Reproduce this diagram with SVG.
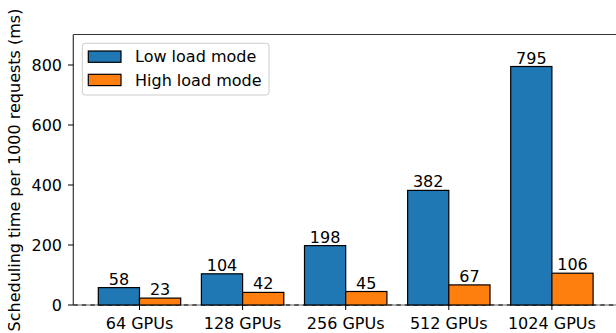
<svg xmlns="http://www.w3.org/2000/svg" width="616" height="333" viewBox="0 0 616 333">
<style>
text{font-family:"DejaVu Sans",sans-serif;font-size:16px;fill:#000}
.lo{fill:#1f77b4;stroke:#000;stroke-width:1.2}
.hi{fill:#ff7f0e;stroke:#000;stroke-width:1.2}
.v{text-anchor:middle}
.yt{text-anchor:end}
.tick{stroke:#000;stroke-width:1}
.spine{stroke:#333;stroke-width:1.2;fill:none}
</style>
<rect width="616" height="333" fill="#fff"/>
<g id="axes">
<line class="spine" x1="73.3" y1="34.5" x2="73.3" y2="305"/>
<line class="spine" x1="73.3" y1="34.5" x2="616" y2="34.5"/>
<line x1="73.3" y1="305" x2="616" y2="305" stroke="#666" stroke-width="1.2"/>
<line x1="73.3" y1="305" x2="616" y2="305" stroke="#000" stroke-width="1.2" stroke-dasharray="4.5,4"/>
<g class="tick">
<line x1="68" y1="305" x2="73.3" y2="305"/>
<line x1="68" y1="245" x2="73.3" y2="245"/>
<line x1="68" y1="185" x2="73.3" y2="185"/>
<line x1="68" y1="125" x2="73.3" y2="125"/>
<line x1="68" y1="65" x2="73.3" y2="65"/>
<line x1="139.5" y1="305" x2="139.5" y2="310"/>
<line x1="242.6" y1="305" x2="242.6" y2="310"/>
<line x1="345.7" y1="305" x2="345.7" y2="310"/>
<line x1="448.8" y1="305" x2="448.8" y2="310"/>
<line x1="551.9" y1="305" x2="551.9" y2="310"/>
</g>
<text class="yt" x="62" y="310.8">0</text>
<text class="yt" x="62" y="250.8">200</text>
<text class="yt" x="62" y="190.8">400</text>
<text class="yt" x="62" y="130.8">600</text>
<text class="yt" x="62" y="70.8">800</text>
<text class="v" x="139.5" y="329">64 GPUs</text>
<text class="v" x="242.6" y="329">128 GPUs</text>
<text class="v" x="345.7" y="329">256 GPUs</text>
<text class="v" x="448.8" y="329">512 GPUs</text>
<text class="v" x="551.9" y="329">1024 GPUs</text>
<text class="v" transform="translate(20,170) rotate(-90)">Scheduling time per 1000 requests (ms)</text>
</g>
<g id="bars-low">
<rect class="lo" x="98.3" y="287.6" width="41.2" height="17.4"/>
<rect class="lo" x="201.4" y="273.8" width="41.2" height="31.2"/>
<rect class="lo" x="304.5" y="245.6" width="41.2" height="59.4"/>
<rect class="lo" x="407.6" y="190.4" width="41.2" height="114.6"/>
<rect class="lo" x="510.7" y="66.5" width="41.2" height="238.5"/>
<text class="v" x="118.9" y="284.6">58</text>
<text class="v" x="222" y="270.8">104</text>
<text class="v" x="325.1" y="242.6">198</text>
<text class="v" x="428.2" y="187.4">382</text>
<text class="v" x="531.3" y="63.5">795</text>
</g>
<g id="bars-high">
<rect class="hi" x="139.5" y="298.1" width="41.2" height="6.9"/>
<rect class="hi" x="242.6" y="292.4" width="41.2" height="12.6"/>
<rect class="hi" x="345.7" y="291.5" width="41.2" height="13.5"/>
<rect class="hi" x="448.8" y="284.9" width="41.2" height="20.1"/>
<rect class="hi" x="551.9" y="273.2" width="41.2" height="31.8"/>
<text class="v" x="160.1" y="295.1">23</text>
<text class="v" x="263.2" y="289.4">42</text>
<text class="v" x="366.3" y="288.5">45</text>
<text class="v" x="469.4" y="281.9">67</text>
<text class="v" x="572.5" y="270.2">106</text>
</g>
<g id="legend">
<rect x="82.3" y="43.3" width="186.7" height="51.7" rx="3" fill="#fff" fill-opacity="0.8" stroke="#ccc" stroke-width="1"/>
<rect class="lo" x="88.3" y="51" width="32.7" height="11.3"/>
<rect class="hi" x="88.3" y="74.3" width="32.7" height="11.3"/>
<text x="135" y="62.3">Low load mode</text>
<text x="135" y="85.6">High load mode</text>
</g>
</svg>
